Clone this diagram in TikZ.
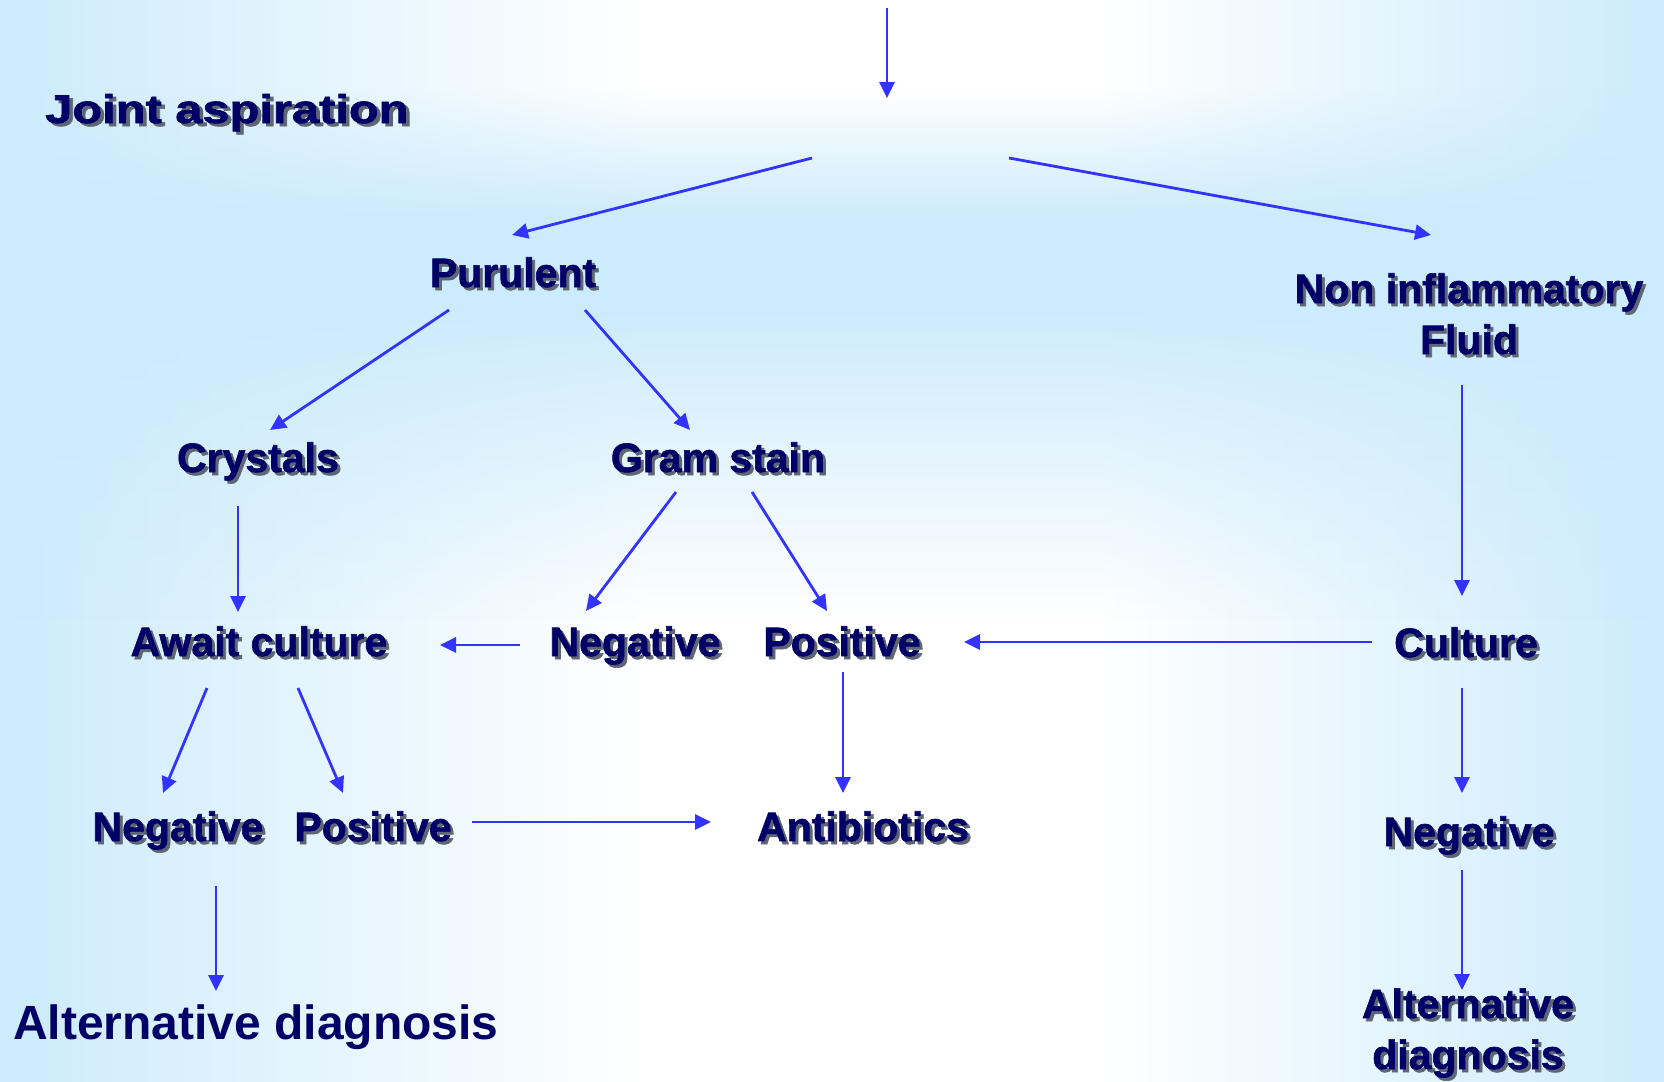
\documentclass[tikz,border=0pt]{standalone}
\usepackage{fontspec}
\setmainfont{Liberation Sans}
\newfontfamily\lblfont[FakeBold=1.5]{Liberation Sans Bold}
\usepackage{graphicx}
\usetikzlibrary{arrows.meta,fadings}
\definecolor{bgblue}{RGB}{204,235,252}
\definecolor{navy}{RGB}{0,0,102}
\definecolor{arrowblue}{RGB}{51,51,255}
\definecolor{shadowc}{RGB}{95,102,115}
\newcommand\shd[1]{\rlap{\kern3pt\raisebox{-3pt}{\textcolor{shadowc}{#1}}}#1}
\tikzfading[name=bandin, top color=transparent!100, bottom color=transparent!0]
\tikzfading[name=bandout, top color=transparent!0, bottom color=transparent!100]
\begin{document}
\begin{tikzpicture}[x=1pt,y=-1pt,
  lbl/.style={font=\lblfont\fontsize{41}{51}\selectfont, text=navy, inner sep=0pt, anchor=base},
  arr/.style={draw=arrowblue, line width=2.8pt, -{Triangle[length=16pt,width=15pt]}}]
\useasboundingbox (0,0) rectangle (1664,1081);
% background
\fill[white] (0,0) rectangle (1664,1081);
\shade[left color=bgblue, right color=white] (0,0) rectangle (651,1081);
\shade[left color=white, right color=bgblue] (1099,0) rectangle (1664,1081);
\fill[bgblue, path fading=bandin] (0,90) rectangle (1664,222);
\fill[bgblue] (0,221) rectangle (1664,301);
\fill[bgblue, path fading=bandout] (0,300) rectangle (1664,620);
% labels
\node[lbl, anchor=base west] (joint) at (45,123) {\scalebox{1.22}[1]{\fontsize{40}{48}\selectfont\shd{Joint aspiration}}};
\node[lbl] (purulent) at (513,287) {\shd{Purulent}};
\node[lbl] (noninfl) at (1469,303) {\begin{tabular}[t]{@{}c@{}}\shd{Non inflammatory}\\\shd{Fluid}\end{tabular}};
\node[lbl] (crystals) at (258,472) {\shd{Crystals}};
\node[lbl] (gram) at (718,472) {\shd{Gram stain}};
\node[lbl] (await) at (259,656) {\shd{Await culture}};
\node[lbl] (negmid) at (635,656) {\shd{Negative}};
\node[lbl] (posmid) at (842,656) {\shd{Positive}};
\node[lbl] (culture) at (1466,657) {\shd{Culture}};
\node[lbl] (neglow) at (178,841) {\shd{Negative}};
\node[lbl] (poslow) at (373,841) {\shd{Positive}};
\node[lbl] (antib) at (863,841) {\shd{Antibiotics}};
\node[lbl] (negright) at (1469,846) {\shd{Negative}};
\node[lbl, anchor=base west, font=\bfseries\fontsize{48}{56}\selectfont] (altleft) at (13,1039) {Alternative diagnosis};
\node[lbl] (altright) at (1468,1018) {\begin{tabular}[t]{@{}c@{}}\shd{Alternative}\\\shd{diagnosis}\end{tabular}};
% connector end points
\coordinate (a1s) at (887,8);      \coordinate (a1e) at (887,98);
\coordinate (a2s) at (812,158);    \coordinate (a2e) at (512,235);
\coordinate (a3s) at (1009,158);   \coordinate (a3e) at (1431,235);
\coordinate (a4s) at (449,310);    \coordinate (a4e) at (270,430);
\coordinate (a5s) at (585,310);    \coordinate (a5e) at (690,430);
\coordinate (a6s) at (238,506);    \coordinate (a6e) at (238,612);
\coordinate (a7s) at (676,492);    \coordinate (a7e) at (586,611);
\coordinate (a8s) at (752,492);    \coordinate (a8e) at (827,611);
\coordinate (a9s) at (520,645);    \coordinate (a9e) at (440,645);
\coordinate (a10s) at (1372,642);  \coordinate (a10e) at (964,642);
\coordinate (a11s) at (843,672);   \coordinate (a11e) at (843,793);
\coordinate (a12s) at (207,688);   \coordinate (a12e) at (163,793);
\coordinate (a13s) at (298,688);   \coordinate (a13e) at (343,793);
\coordinate (a14s) at (472,822);   \coordinate (a14e) at (711,822);
\coordinate (a15s) at (216,886);   \coordinate (a15e) at (216,991);
\coordinate (a16s) at (1462,385);  \coordinate (a16e) at (1462,596);
\coordinate (a17s) at (1462,688);  \coordinate (a17e) at (1462,793);
\coordinate (a18s) at (1462,870);  \coordinate (a18e) at (1462,990);
% connectors
\foreach \i in {1,...,18} {\draw[arr] (a\i s) -- (a\i e);}
\end{tikzpicture}
\end{document}
